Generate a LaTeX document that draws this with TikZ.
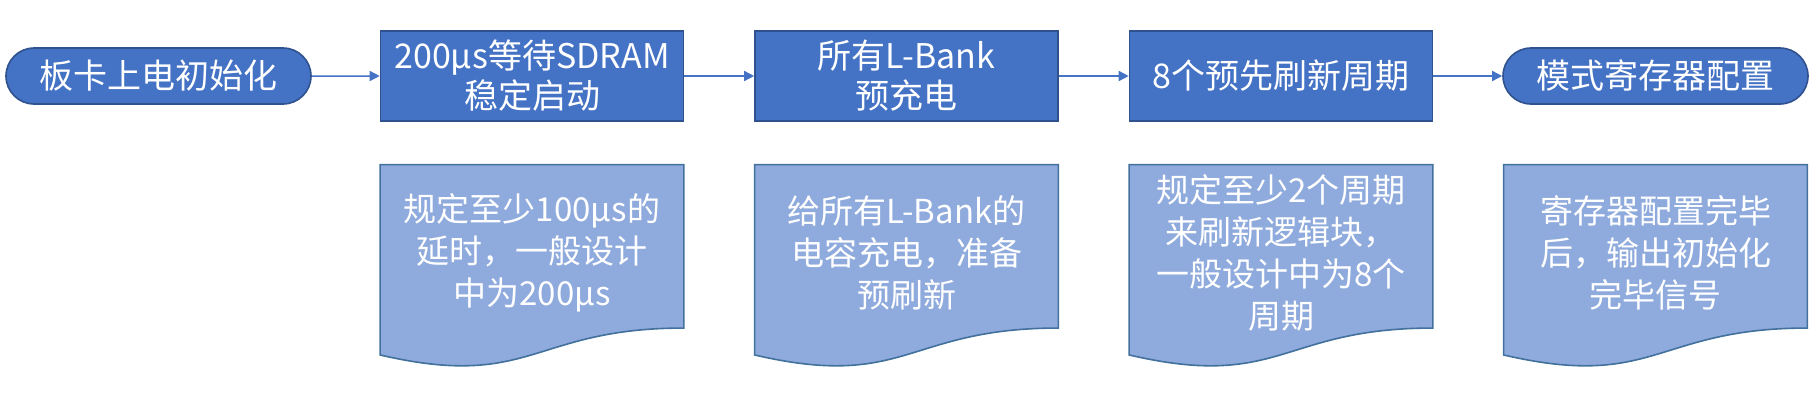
\documentclass[tikz,border=0pt]{standalone}
\usepackage{fontspec}
\setmainfont{Noto Sans CJK SC}
\usetikzlibrary{arrows.meta,calc,shapes.misc}
\definecolor{boxblue}{HTML}{4472C4}
\definecolor{boxedge}{HTML}{2F528F}
\definecolor{docblue}{HTML}{8FAADC}
\definecolor{docedge}{HTML}{41719C}
\newcommand{\mydoc}[1]{%
  \path[docshape] (#1.north west) -- (#1.north east)
    -- ($(#1.north east)!0.802!(#1.south east)$)
    .. controls ($(#1.north)!0.802!(#1.south)$) and ($(#1.north)!1.1075!(#1.south)$)
    .. ($(#1.north west)!0.934!(#1.south west)$) -- cycle;}
\begin{document}
\begin{tikzpicture}[x=0.5pt,y=-0.5pt,
  stepbox/.style={draw=boxedge,fill=boxblue,line width=0.8pt,minimum width=151.5pt,minimum height=45pt,
    inner sep=0pt,text=white,align=center,font=\fontsize{17}{20}\selectfont},
  termbox/.style={rounded rectangle,draw=boxedge,fill=boxblue,line width=0.8pt,minimum width=152.5pt,minimum height=28pt,
    inner sep=0pt,text=white,align=center,font=\fontsize{17}{20}\selectfont},
  docframe/.style={minimum width=151.5pt,minimum height=101.5pt,inner sep=0pt},
  docshape/.style={draw=docedge,fill=docblue,line width=0.8pt},
  doctext/.style={text=white,align=center,font=\fontsize{16.5}{21}\selectfont,inner sep=0pt},
  flow/.style={draw=boxblue,line width=0.75pt,-{Triangle[length=5pt,width=5pt]}}]
\useasboundingbox (0,0) rectangle (1816,408);
\node[termbox] (t1) at (158.5,76) {板卡上电初始化};
\node[stepbox] (b2) at (532,76) {200μs等待SDRAM\\稳定启动};
\node[stepbox] (b3) at (906.5,76) {所有L-Bank\\预充电};
\node[stepbox] (b4) at (1281,76) {8个预先刷新周期};
\node[termbox] (t5) at (1655.5,76) {模式寄存器配置};
\draw[flow] (t1) -- (b2);
\draw[flow] (b2) -- (b3);
\draw[flow] (b3) -- (b4);
\draw[flow] (b4) -- (t5);
\node[docframe] (d1) at (532,266.5) {};
\node[docframe] (d2) at (906.5,266.5) {};
\node[docframe] (d3) at (1281,266.5) {};
\node[docframe] (d4) at (1655.5,266.5) {};
\mydoc{d1}\mydoc{d2}\mydoc{d3}\mydoc{d4}
\node[doctext] (x1) at (532,253) {规定至少100μs的\\延时，一般设计\\中为200μs};
\node[doctext] (x2) at (906.5,253) {给所有L-Bank的\\电容充电，准备\\预刷新};
\node[doctext] (x3) at (1281,253) {规定至少2个周期\\来刷新逻辑块，\\一般设计中为8个\\周期};
\node[doctext] (x4) at (1655.5,253) {寄存器配置完毕\\后，输出初始化\\完毕信号};
\end{tikzpicture}
\end{document}
